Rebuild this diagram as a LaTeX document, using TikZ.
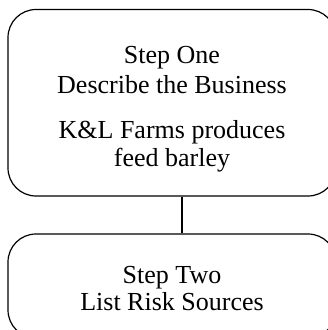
\documentclass[tikz,border=0pt]{standalone}
\usepackage{fontspec}
\setmainfont{Liberation Serif}
\begin{document}
\begin{tikzpicture}[x=1pt,y=1pt,
  stepbox/.style={draw=black, line width=1.2pt, rounded corners=28pt, inner sep=0pt, fill=none},
  txt/.style={anchor=base, inner sep=0pt, font=\fontsize{26}{30}\selectfont}]
\useasboundingbox (0,0) rectangle (328,-330);
\begin{scope}
\clip (0,0) rectangle (328,-330);
\node[stepbox, minimum width=328pt, minimum height=186.5pt] (one) at (172,-102.75) {};
\node[stepbox, minimum width=328pt, minimum height=104pt] (two) at (172,-286) {};
\coordinate (cx) at (182,0);
\draw[line width=1.2pt] (one.south -| cx) -- (two.north -| cx);
\node[txt] (l1) at (172,-63.3) {Step One};
\node[txt] (l2) at (172,-93.3) {Describe the Business};
\node[txt] (l3) at (172,-138.3) {K\&L Farms produces};
\node[txt] (l4) at (172,-166.7) {feed barley};
\node[txt] (l5) at (172,-283.3) {Step Two};
\node[txt] (l6) at (172,-310) {List Risk Sources};
\end{scope}
\end{tikzpicture}
\end{document}
